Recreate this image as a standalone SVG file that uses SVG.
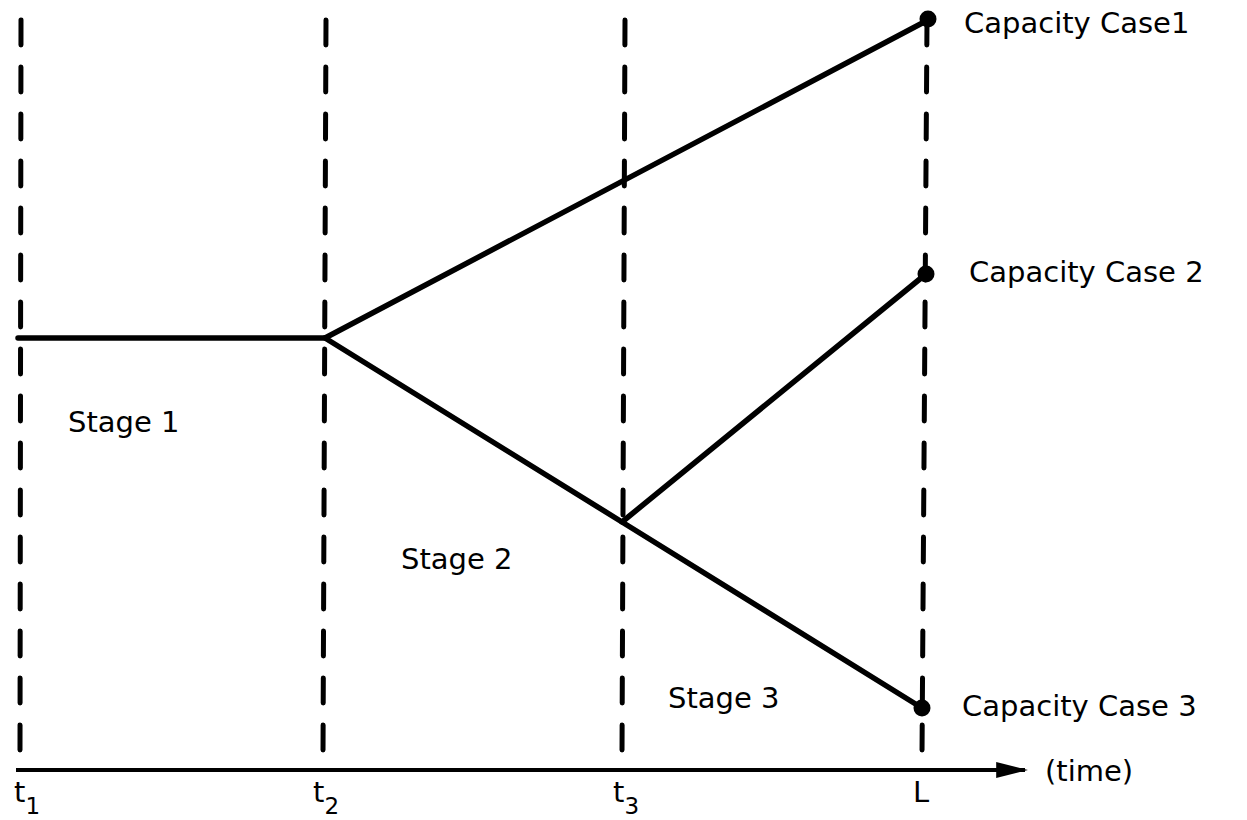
<svg xmlns="http://www.w3.org/2000/svg" width="1247" height="820" viewBox="0 0 1247 820">
<style>
.grid{stroke:#000;stroke-width:5;stroke-dasharray:25 22;stroke-linecap:round;fill:none}
.ln{stroke:#000;stroke-width:5.5;fill:none;stroke-linecap:round;stroke-linejoin:round}
.ax{stroke:#000;stroke-width:4;fill:none}
text{font-family:"DejaVu Sans","Liberation Sans",sans-serif;font-size:29px;fill:#000}
.sub{font-size:23px}
</style>
<defs>
<marker id="arr" viewBox="0 0 20 10" refX="18" refY="5" markerWidth="8" markerHeight="4" orient="auto" markerUnits="strokeWidth">
<path d="M0,0 L20,5 L0,10 z" fill="#000"/>
</marker>
</defs>
<g id="gridlines">
<line class="grid" x1="21" y1="20" x2="20" y2="755"/>
<line class="grid" x1="326" y1="20" x2="323" y2="755"/>
<line class="grid" x1="625" y1="20" x2="622" y2="755"/>
<line class="grid" x1="927" y1="20" x2="922" y2="755"/>
</g>
<g id="connectors">
<line class="ax" x1="16" y1="770" x2="1025" y2="770" marker-end="url(#arr)"/>
<polyline class="ln" points="18,338 325,338 928,20"/>
<polyline class="ln" points="325,338 622,522 926,274"/>
<line class="ln" x1="622" y1="522" x2="922" y2="708"/>
</g>
<g id="case1"><circle cx="928" cy="19" r="8.5"/><text x="964" y="33">Capacity Case1</text></g>
<g id="case2"><circle cx="926" cy="274" r="8.5"/><text x="969" y="282">Capacity Case 2</text></g>
<g id="case3"><circle cx="922" cy="708" r="8.5"/><text x="962" y="716">Capacity Case 3</text></g>
<g id="stage1"><text x="68" y="432">Stage 1</text></g>
<g id="stage2"><text x="401" y="569">Stage 2</text></g>
<g id="stage3"><text x="668" y="708">Stage 3</text></g>
<g id="axislabels">
<text x="14" y="802">t<tspan class="sub" dy="12">1</tspan></text>
<text x="313" y="802">t<tspan class="sub" dy="12">2</tspan></text>
<text x="613" y="802">t<tspan class="sub" dy="12">3</tspan></text>
<text x="913" y="802">L</text>
<text x="1045" y="781">(time)</text>
</g>
</svg>
